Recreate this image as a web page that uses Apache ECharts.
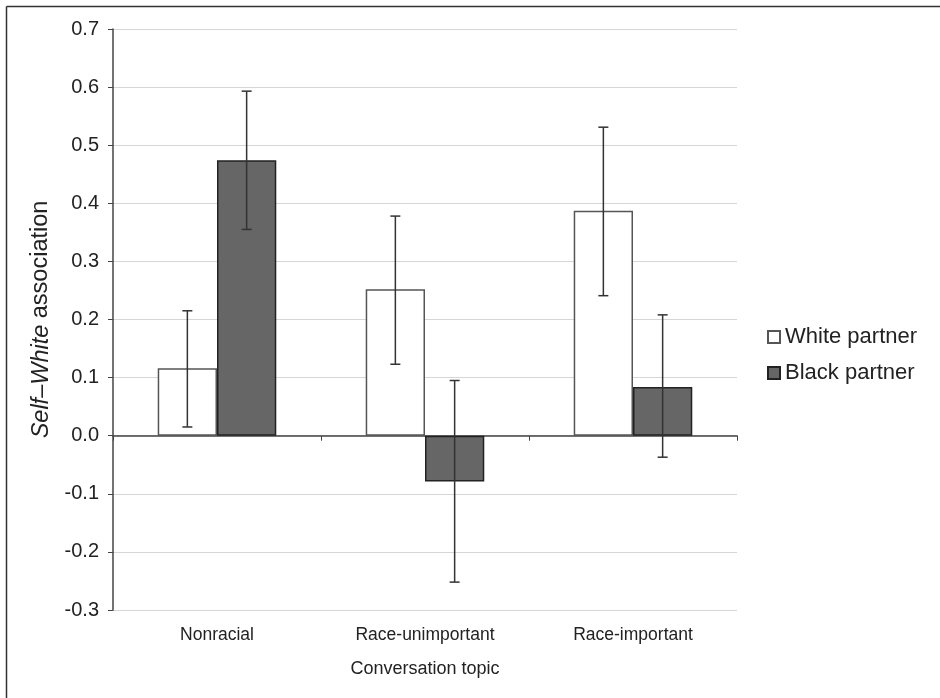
<!DOCTYPE html>
<html>
<head>
<meta charset="utf-8">
<script src="https://cdn.jsdelivr.net/npm/echarts@6/dist/echarts.min.js"></script>
<style>html,body{margin:0;padding:0;background:#fff;}#c{width:940px;height:698px;}</style>
</head>
<body>
<div id="c"></div>
<script>
const categories = ['Nonracial', 'Race-unimportant', 'Race-important'];
const seriesNames = ['White partner', 'Black partner'];
const whiteValues = [0.116, 0.252, 0.387];
const blackValues = [0.474, -0.079, 0.084];
const whiteErrLow = [0.015, 0.123, 0.241];
const whiteErrHigh = [0.215, 0.378, 0.531];
const blackErrLow = [0.355, -0.252, -0.037];
const blackErrHigh = [0.593, 0.095, 0.208];
const yTicks = { min: -0.3, max: 0.7, interval: 0.1 };

const font = 'Liberation Sans, Arial, sans-serif';
const gapPct = 0.43;

const errData = [];
categories.forEach((c, i) => {
  errData.push([i, whiteErrLow[i], whiteErrHigh[i], 0]);
  errData.push([i, blackErrLow[i], blackErrHigh[i], 1]);
});

const chart = echarts.init(document.getElementById('c'));
chart.setOption({
  animation: false,
  backgroundColor: '#fff',
  textStyle: { fontFamily: font },
  graphic: [
    { type: 'line', shape: { x1: 6.5, y1: 6.5, x2: 940, y2: 6.5 }, style: { stroke: '#333', lineWidth: 1.5 } },
    { type: 'line', shape: { x1: 6.5, y1: 6.5, x2: 6.5, y2: 698 }, style: { stroke: '#333', lineWidth: 1.5 } }
  ],
  grid: { left: 113, right: 203, top: 29, bottom: 88 },
  legend: {
    orient: 'vertical', left: 762, top: 321, itemWidth: 12, itemHeight: 12, itemGap: 14,
    icon: 'rect',
    textStyle: { fontSize: 22, color: '#222', fontFamily: font, padding: [0, 0, 0, 0] },
    data: seriesNames
  },
  xAxis: [
    {
      type: 'category', data: categories, position: 'bottom',
      axisLine: { show: false, onZero: false }, axisTick: { show: false },
      axisLabel: { fontSize: 17.5, color: '#222', margin: 16, fontFamily: font },
      name: 'Conversation topic', nameLocation: 'middle', nameGap: 50,
      nameTextStyle: { fontSize: 18, color: '#222', fontFamily: font }
    },
    {
      type: 'category', data: categories, position: 'bottom',
      axisLine: { show: true, onZero: true, lineStyle: { color: '#444', width: 1.5 } },
      axisTick: { show: true, length: 5, lineStyle: { color: '#444', width: 1 } },
      axisLabel: { show: false }
    }
  ],
  yAxis: {
    type: 'value', min: yTicks.min, max: yTicks.max, interval: yTicks.interval,
    axisLine: { show: true, lineStyle: { color: '#444', width: 1.5 } },
    axisTick: { show: true, length: 5, lineStyle: { color: '#444' } },
    splitLine: { show: true, lineStyle: { color: '#d6d6d6', width: 1.2 } },
    axisLabel: { fontSize: 20, color: '#222', margin: 14, fontFamily: font,
      formatter: v => v.toFixed(1) },
    name: '{i|Self–White} association', nameLocation: 'middle', nameGap: 60, nameRotate: 90,
    nameTextStyle: { fontSize: 23.5, color: '#222', fontFamily: font,
      rich: { i: { fontStyle: 'italic', fontSize: 23.5, color: '#222', fontFamily: font } } }
  },
  series: [
    {
      name: seriesNames[0], type: 'bar', data: whiteValues, barGap: '0%', barCategoryGap: (gapPct * 100) + '%',
      itemStyle: { color: '#fff', borderColor: '#555', borderWidth: 1.5 }
    },
    {
      name: seriesNames[1], type: 'bar', data: blackValues, barGap: '0%', barCategoryGap: (gapPct * 100) + '%',
      itemStyle: { color: '#666', borderColor: '#222', borderWidth: 1.5 }
    },
    {
      type: 'custom', data: errData, z: 10,
      encode: { x: 0, y: [1, 2] },
      renderItem: function (params, api) {
        const ci = api.value(0);
        const lo = api.coord([ci, api.value(1)]);
        const hi = api.coord([ci, api.value(2)]);
        const catW = api.size([1, 0])[0];
        const barW = catW * (1 - gapPct) / 2;
        const x = lo[0] + (api.value(3) === 0 ? -barW / 2 : barW / 2);
        const cap = 5;
        const st = { stroke: '#333', lineWidth: 1.5 };
        return {
          type: 'group', children: [
            { type: 'line', shape: { x1: x, y1: lo[1], x2: x, y2: hi[1] }, style: st },
            { type: 'line', shape: { x1: x - cap, y1: lo[1], x2: x + cap, y2: lo[1] }, style: st },
            { type: 'line', shape: { x1: x - cap, y1: hi[1], x2: x + cap, y2: hi[1] }, style: st }
          ]
        };
      }
    }
  ]
});
</script>
</body>
</html>
